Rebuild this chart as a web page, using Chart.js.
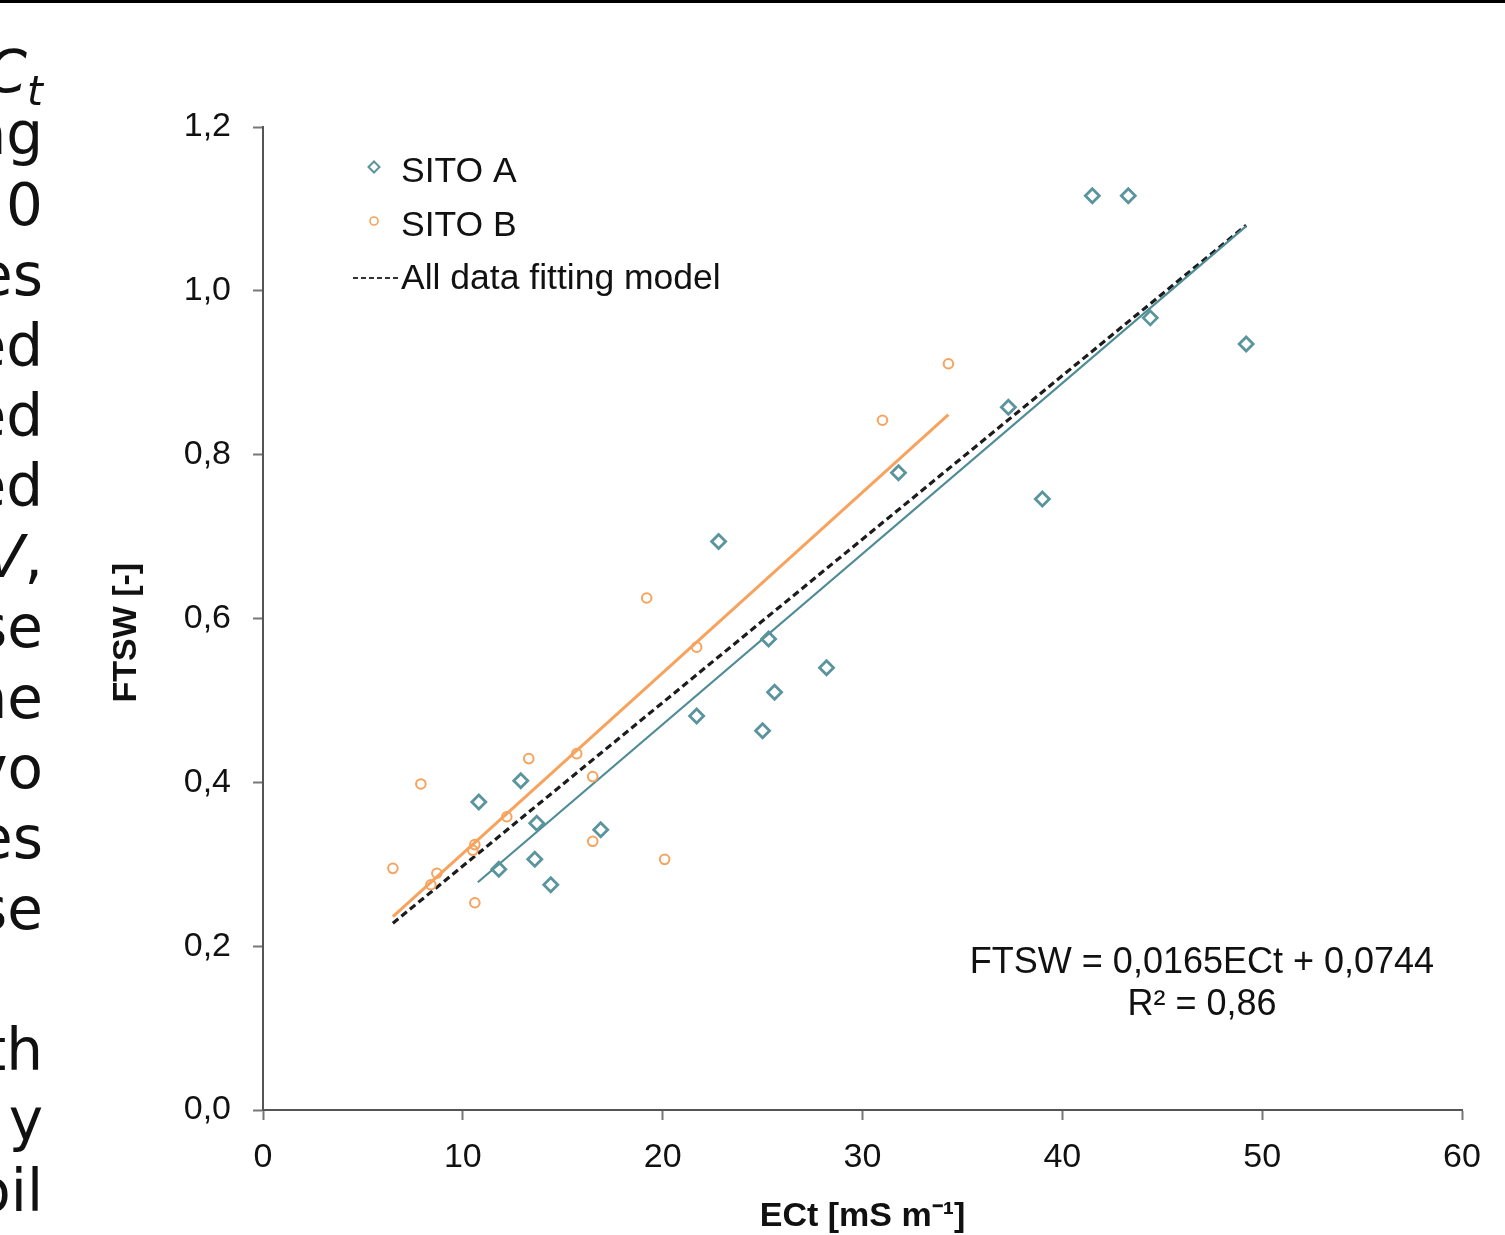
<!DOCTYPE html>
<html>
<head>
<meta charset="utf-8">
<title>FTSW vs ECt</title>
<script src="https://cdn.jsdelivr.net/npm/chart.js@4.4.1/dist/chart.umd.min.js"></script>
<style>
    html, body {
        margin: 0;
        padding: 0;
        background: #fff;
    }
    body {
        position: relative;
        width: 1505px;
        height: 1235px;
        overflow: hidden;
    }
    .top-rule {
        position: absolute;
        left: 0;
        top: 0;
        width: 1505px;
        height: 3px;
        background: #000;
        z-index: 2;
    }
    .page-text {
        position: absolute;
        left: -400px;
        top: 29px;
        width: 443px;
        text-align: right;
        font-family: 'DejaVu Sans', sans-serif;
        font-size: 58px;
        line-height: 70.4px;
        color: #111;
        z-index: 2;
    }
    .page-text sub {
        font-size: 0.7em;
        line-height: 0;
    }
    .page-text .first {
        position: relative;
        top: 8px;
    }
    #chartWrap {
        position: absolute;
        left: 0;
        top: 0;
        width: 1505px;
        height: 1235px;
    }
</style>
</head>
<body>
<div class="top-rule"></div>
<div class="page-text">
    <span class="first"><i>C</i><sub><i>t</i></sub></span><br>
    ng<br>
    0<br>
    es<br>
    ed<br>
    ed<br>
    ed<br>
    <i>V</i>,<br>
    se<br>
    ne<br>
    vo<br>
    es<br>
    se<br>
    &nbsp;<br>
    th<br>
    y<br>
    oil
</div>
<div id="chartWrap"><canvas id="chart" width="1505" height="1235"></canvas></div>

<script>
// Values
const sitoAEct  = [10.8, 12.9, 13.7, 13.6, 11.8, 14.4, 16.9, 22.8, 21.7, 25.3, 25.6, 25.0, 28.2, 31.8, 37.3, 39.0, 41.5, 43.3, 44.4, 49.2];
const sitoAFtsw = [0.376, 0.402, 0.350, 0.306, 0.294, 0.275, 0.342, 0.694, 0.481, 0.575, 0.510, 0.463, 0.540, 0.778, 0.858, 0.746, 1.116, 1.116, 0.967, 0.935];

const sitoBEct  = [6.5, 7.9, 8.4, 8.7, 10.6, 10.6, 10.5, 12.2, 13.3, 15.7, 16.5, 16.5, 20.1, 19.2, 21.7, 31.0, 34.3];
const sitoBFtsw = [0.295, 0.398, 0.275, 0.289, 0.253, 0.324, 0.317, 0.358, 0.429, 0.435, 0.407, 0.328, 0.306, 0.625, 0.565, 0.842, 0.911];

// trend line end points
const fitAEct  = [10.75, 49.2];
const fitAFtsw = [0.278, 1.079];
const fitBEct  = [6.5, 34.3];
const fitBFtsw = [0.236, 0.849];
const fitAllEct  = [6.5, 49.2];
const fitAllFtsw = [0.228, 1.080];

const xTicks = [0, 10, 20, 30, 40, 50, 60];
const yTicks = [0, 0.2, 0.4, 0.6, 0.8, 1.0, 1.2];

const equationLines = ['FTSW = 0,0165ECt + 0,0744', 'R² = 0,86'];

const teal = '#5a949d';
const tealLine = '#4f8c96';
const orange = '#f7a35e';
const fontFamily = "'Liberation Sans', Arial, Helvetica, sans-serif";

const toPoints = (xs, ys) => xs.map((x, i) => ({ x: x, y: ys[i] }));
const comma = (v, d) => v.toFixed(d).replace('.', ',');

// legend + regression text drawn inside the plot area
const insideText = {
    id: 'insideText',
    afterDatasetsDraw(chart) {
        const ctx = chart.ctx;
        const ca = chart.chartArea;
        const mx = ca.left + 111;
        const tx = ca.left + 138;

        ctx.save();
        ctx.font = '35.5px ' + fontFamily;
        ctx.fillStyle = '#111';
        ctx.textBaseline = 'middle';
        ctx.textAlign = 'left';

        const rows = [
            { label: 'SITO A', y: ca.top + 40, style: 'rectRot', r: 5.5, color: teal, bw: 2 },
            { label: 'SITO B', y: ca.top + 94, style: 'circle', r: 4, color: orange, bw: 1.6 }
        ];
        rows.forEach(row => {
            ctx.strokeStyle = row.color;
            ctx.fillStyle = 'rgba(0,0,0,0)';
            ctx.lineWidth = row.bw;
            Chart.helpers.drawPoint(ctx, { pointStyle: row.style, radius: row.r, borderWidth: row.bw, rotation: 0 }, mx, row.y);
            ctx.fillStyle = '#111';
            ctx.fillText(row.label, tx, row.y + 5);
        });

        const ly = ca.top + 151;
        ctx.beginPath();
        ctx.setLineDash([5, 3]);
        ctx.strokeStyle = '#333';
        ctx.lineWidth = 2;
        ctx.moveTo(ca.left + 90, ly);
        ctx.lineTo(ca.left + 135, ly);
        ctx.stroke();
        ctx.setLineDash([]);
        ctx.fillText('All data fitting model', tx, ly + 1);

        ctx.font = '36px ' + fontFamily;
        ctx.textAlign = 'center';
        const ex = ca.left + 939;
        ctx.fillText(equationLines[0], ex, ca.top + 836);
        ctx.fillText(equationLines[1], ex, ca.top + 878);
        ctx.restore();
    }
};

const ctx = document.getElementById('chart').getContext('2d');
Chart.defaults.font.family = fontFamily;
Chart.defaults.color = '#111';

new Chart(ctx, {
    type: 'scatter',
    data: {
        datasets: [
            {
                label: 'SITO A',
                data: toPoints(sitoAEct, sitoAFtsw),
                pointStyle: 'rectRot',
                pointRadius: 7,
                borderColor: teal,
                borderWidth: 2.8,
                backgroundColor: 'rgba(0,0,0,0)'
            },
            {
                label: 'SITO B',
                data: toPoints(sitoBEct, sitoBFtsw),
                pointStyle: 'circle',
                pointRadius: 4.8,
                borderColor: orange,
                borderWidth: 2,
                backgroundColor: 'rgba(0,0,0,0)'
            },
            {
                label: 'Fit A',
                data: toPoints(fitAEct, fitAFtsw),
                showLine: true,
                pointRadius: 0,
                borderColor: tealLine,
                borderWidth: 2.2
            },
            {
                label: 'Fit B',
                data: toPoints(fitBEct, fitBFtsw),
                showLine: true,
                pointRadius: 0,
                borderColor: orange,
                borderWidth: 3
            },
            {
                label: 'All data fitting model',
                data: toPoints(fitAllEct, fitAllFtsw),
                showLine: true,
                pointRadius: 0,
                borderColor: '#1c1c1c',
                borderWidth: 3.2,
                borderDash: [7, 4]
            }
        ]
    },
    options: {
        responsive: false,
        animation: false,
        layout: { padding: { top: 127, right: 43, left: 0, bottom: 0 } },
        plugins: {
            legend: { display: false },
            tooltip: { enabled: false }
        },
        scales: {
            x: {
                type: 'linear',
                min: xTicks[0],
                max: xTicks[xTicks.length - 1],
                afterBuildTicks: (s) => { s.ticks = xTicks.map(v => ({ value: v })); },
                afterFit: (s) => { s.height = 125; },
                border: { color: '#555', width: 2 },
                grid: { drawOnChartArea: false, drawTicks: true, tickLength: 10, tickColor: '#777', tickWidth: 2 },
                ticks: { font: { size: 34 }, padding: 17, color: '#111' },
                title: {
                    display: true,
                    text: 'ECt [mS m⁻¹]',
                    font: { size: 34, weight: 'bold' },
                    color: '#111',
                    padding: { top: 0, bottom: -2 }
                }
            },
            y: {
                type: 'linear',
                min: yTicks[0],
                max: yTicks[yTicks.length - 1],
                afterBuildTicks: (s) => { s.ticks = yTicks.map(v => ({ value: v })); },
                afterFit: (s) => { s.width = 263; },
                border: { color: '#555', width: 2 },
                grid: { drawOnChartArea: false, drawTicks: true, tickLength: 10, tickColor: '#777', tickWidth: 2 },
                ticks: { font: { size: 34 }, padding: 22, color: '#111', callback: (v) => comma(v, 1) },
                title: {
                    display: true,
                    // trailing spaces nudge the rotated title down to where the original sits
                    text: 'FTSW [-]\u00a0\u00a0\u00a0',
                    font: { size: 34, weight: 'bold' },
                    color: '#111',
                    padding: { top: 106, bottom: 0 }
                }
            }
        }
    },
    plugins: [insideText]
});
</script>
</body>
</html>
